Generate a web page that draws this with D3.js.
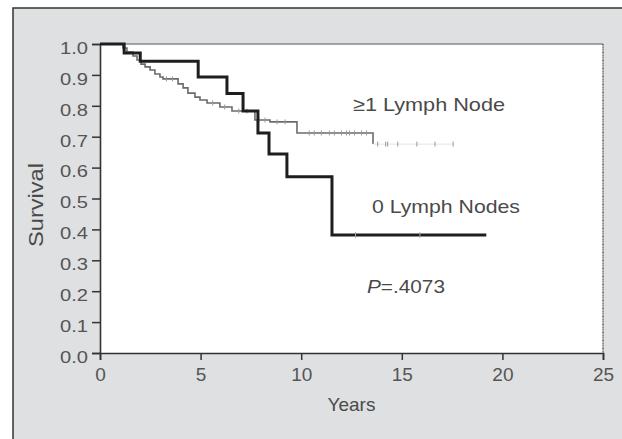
<!DOCTYPE html>
<html>
<head>
<meta charset="utf-8">
<script src="https://cdn.jsdelivr.net/npm/d3@7"></script>
<style>
  body { margin: 0; background: #fff; }
  text { font-family: "Liberation Sans", Arial, Helvetica, sans-serif; fill: #4a4a4a; }
</style>
</head>
<body>
<div id="chart"></div>
<script>
// Kaplan-Meier steps
const zeroTimes = [0, 1.2, 2.0, 4.88, 6.31, 7.11, 7.85, 8.4, 9.29, 11.53];
const zeroSurv  = [1.0, 0.971, 0.944, 0.893, 0.84, 0.783, 0.712, 0.644, 0.57, 0.382];
const zeroEnd = 19.2;
const zeroCensor = [12.7, 15.9];

const oneTimes = [0, 1.14, 1.34, 1.64, 1.84, 2.04, 2.24, 2.49, 2.73, 2.98, 3.13, 3.88, 4.13, 4.37,
  4.72, 4.97, 5.32, 5.96, 6.56, 7.7, 8.45, 9.79, 13.57];
const oneSurv = [1.0, 0.987, 0.974, 0.961, 0.948, 0.935, 0.926, 0.916, 0.903, 0.893, 0.887, 0.871, 0.858, 0.841,
  0.828, 0.819, 0.809, 0.796, 0.783, 0.754, 0.748, 0.712, 0.676];
const oneEnd = 17.6;
const oneCensor = [3.3, 3.6, 5.6, 6.2, 6.9, 7.3, 7.9, 8.2, 8.8, 9.2, 10.4, 10.65, 11.0, 11.4, 11.65,
  12.0, 12.25, 12.4, 12.65, 13.0, 13.25, 13.8, 14.2, 14.3, 14.8, 15.75, 16.65, 17.55];

const xTicks = [0, 5, 10, 15, 20, 25];
const yTicks = [0, 0.1, 0.2, 0.3, 0.4, 0.5, 0.6, 0.7, 0.8, 0.9, 1.0];

const W = 622, H = 439;
const margin = { top: 44, right: 19, bottom: 86, left: 100 },
  width = W - margin.left - margin.right,
  height = H - margin.top - margin.bottom;

let root = d3.select('#chart')
  .append('svg')
  .attr('width', W)
  .attr('height', H);

// grey panel with its frame (cropped at right and bottom)
root.append('rect')
  .attr('x', 13).attr('y', 8)
  .attr('width', W - 13).attr('height', H - 8)
  .style('fill', '#dfe0e2');
root.append('path')
  .attr('d', `M13,${H} V8 H${W}`)
  .attr('fill', 'none')
  .attr('stroke', '#333')
  .attr('stroke-width', 1.5);

let svg = root.append('g')
  .attr('transform', 'translate(' + margin.left + ',' + margin.top + ')');

let x = d3.scaleLinear().domain([0, 25]).range([0, width]);
let y = d3.scaleLinear().domain([0, 1]).range([height, 0]);

svg.append('rect')
  .attr('width', width)
  .attr('height', height)
  .style('fill', '#fff');

// top and right plot border
svg.append('line')
  .attr('x1', 0).attr('x2', width).attr('y1', 0).attr('y2', 0)
  .attr('stroke', '#8a8a8a').attr('stroke-width', 1.5);
svg.append('line')
  .attr('x1', width).attr('x2', width).attr('y1', 0).attr('y2', height)
  .attr('stroke', '#555').attr('stroke-width', 1.5)
  .attr('stroke-dasharray', '1,0.6');

// axes
let yAxis = svg.append('g')
  .call(d3.axisLeft(y).tickValues(yTicks).tickFormat(d3.format('.1f')).tickSize(8));
let xAxis = svg.append('g')
  .attr('transform', 'translate(0,' + height + ')')
  .call(d3.axisBottom(x).tickValues(xTicks).tickSize(7));

[yAxis, xAxis].forEach(g => {
  g.select('.domain').attr('stroke', '#333').attr('stroke-width', 1.6);
  g.selectAll('.tick line').attr('stroke', '#333').attr('stroke-width', 1.5);
  g.selectAll('.tick text').style('fill', '#555');
});
yAxis.selectAll('.tick text')
  .attr('x', -12)
  .attr('dy', '0.55em')
  .style('font-size', '17px')
  .attr('textLength', 28)
  .attr('lengthAdjust', 'spacingAndGlyphs');
xAxis.selectAll('.tick text')
  .attr('y', 13)
  .attr('dy', '0.8em')
  .style('font-size', '19px');

function steps(times, surv, end) {
  let pts = times.map((t, i) => [t, surv[i]]);
  pts.push([end, surv[surv.length - 1]]);
  return pts;
}
function survAt(times, surv, t) {
  let i = d3.bisectRight(times, t) - 1;
  return surv[Math.max(i, 0)];
}

let line = d3.line()
  .x(d => x(d[0]))
  .y(d => y(d[1]))
  .curve(d3.curveStepAfter);

// >=1 lymph node (thin grey)
svg.append('path')
  .datum(steps(oneTimes, oneSurv, 13.57))
  .attr('d', line)
  .attr('fill', 'none')
  .attr('stroke', '#6b6b6b')
  .attr('stroke-width', 1.6);
svg.append('path')
  .datum([[13.57, oneSurv[oneSurv.length - 1]], [oneEnd, oneSurv[oneSurv.length - 1]]])
  .attr('d', line)
  .attr('fill', 'none')
  .attr('stroke', '#e4e4e4')
  .attr('stroke-width', 1);
svg.selectAll('.c1')
  .data(oneCensor)
  .enter()
  .append('line')
  .attr('x1', d => x(d)).attr('x2', d => x(d))
  .attr('y1', d => y(survAt(oneTimes, oneSurv, d)) - 2.5)
  .attr('y2', d => y(survAt(oneTimes, oneSurv, d)) + 2.5)
  .attr('stroke', '#999')
  .attr('stroke-width', 1);

// 0 lymph nodes (thick black)
svg.append('path')
  .datum(steps(zeroTimes, zeroSurv, zeroEnd))
  .attr('d', line)
  .attr('fill', 'none')
  .attr('stroke', '#1e1e1e')
  .attr('stroke-width', 3);
svg.selectAll('.c0')
  .data(zeroCensor)
  .enter()
  .append('line')
  .attr('x1', d => x(d)).attr('x2', d => x(d))
  .attr('y1', d => y(survAt(zeroTimes, zeroSurv, d)) - 3)
  .attr('y2', d => y(survAt(zeroTimes, zeroSurv, d)) + 3)
  .attr('stroke', '#aaa')
  .attr('stroke-width', 1);

// labels
root.append('text')
  .attr('x', 353).attr('y', 111)
  .style('font-size', '19px')
  .attr('textLength', 152)
  .attr('lengthAdjust', 'spacingAndGlyphs')
  .text('≥1 Lymph Node');
root.append('text')
  .attr('x', 372).attr('y', 213)
  .style('font-size', '19px')
  .attr('textLength', 148)
  .attr('lengthAdjust', 'spacingAndGlyphs')
  .text('0 Lymph Nodes');
let p = root.append('text')
  .attr('x', 367).attr('y', 293)
  .style('font-size', '19px')
  .attr('textLength', 78)
  .attr('lengthAdjust', 'spacingAndGlyphs');
p.append('tspan').style('font-style', 'italic').text('P');
p.append('tspan').text('=.4073');

root.append('text')
  .attr('x', margin.left + width / 2)
  .attr('y', 411)
  .style('text-anchor', 'middle')
  .style('font-size', '19px')
  .text('Years');
root.append('text')
  .attr('transform', 'translate(43,205) rotate(-90)')
  .style('text-anchor', 'middle')
  .style('font-size', '20px')
  .attr('textLength', 84)
  .attr('lengthAdjust', 'spacingAndGlyphs')
  .text('Survival');
</script>
</body>
</html>
